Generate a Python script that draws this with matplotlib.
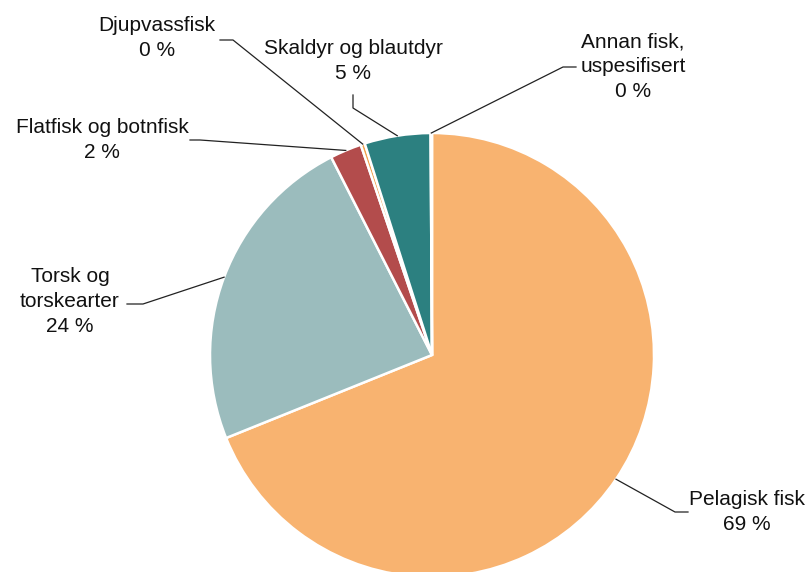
import numpy as np
import matplotlib.pyplot as plt

plt.rcParams['font.family'] = ['Liberation Sans', 'DejaVu Sans']

# data (share in %)
categories = ['Pelagisk fisk', 'Torsk og\ntorskearter', 'Flatfisk og botnfisk',
              'Djupvassfisk', 'Skaldyr og blautdyr', 'Annan fisk,\nuspesifisert']
shares = [68.9, 23.6, 2.3, 0.3, 4.8, 0.1]
pct_labels = ['69 %', '24 %', '2 %', '0 %', '5 %', '0 %']
colors = ['#F8B370', '#9BBCBD', '#B34C4C', '#F0A04B', '#2C8080', '#F8B370']

# layout in pixel coords (y from top): elbow, stub end, text centre
W, H = 812, 572
cx, cy, R = 432, 355, 222
elbows = [(675, 512), (143, 304), (200, 140), (233, 40), (353, 108), (563, 67)]
stubs = [(688, 512), (127, 304), (190, 140), (220, 40), (353, 95), (576, 67)]
text_pos = [(747, 512), (70, 302), (102, 140), (157, 38), (353, 61), (633, 67)]

fig = plt.figure(figsize=(W / 100, H / 100), dpi=100)
ax = fig.add_axes([0, 0, 1, 1])

wedges, _ = ax.pie(shares, colors=colors, startangle=90, counterclock=False,
                   center=(cx, H - cy), radius=R,
                   wedgeprops=dict(edgecolor='white', linewidth=1.8))

for w, lab, pct, e, s, t in zip(wedges, categories, pct_labels, elbows, stubs, text_pos):
    ang = np.deg2rad((w.theta1 + w.theta2) / 2)
    x0 = cx + R * np.cos(ang)
    y0 = (H - cy) + R * np.sin(ang)
    ax.plot([x0, e[0], s[0]], [y0, H - e[1], H - s[1]], color='#222222', lw=0.9)
    ax.text(t[0], H - t[1], lab + '\n' + pct, ha='center', va='center',
            fontsize=15, color='#111111', linespacing=1.4)

ax.set_xlim(0, W)
ax.set_ylim(0, H)
ax.set_aspect('equal')
ax.axis('off')

plt.savefig('out.png', dpi=100)
